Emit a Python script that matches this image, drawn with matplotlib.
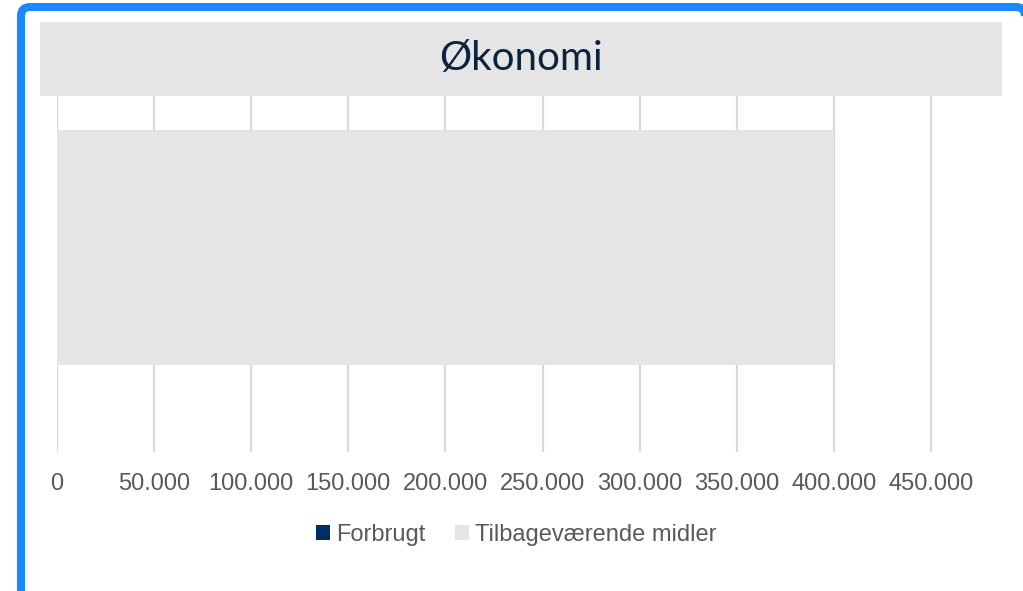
"""
Budget bar chart: spent vs remaining funds (Økonomi).
"""
import matplotlib.pyplot as plt
from matplotlib.patches import PathPatch, Rectangle
from matplotlib.path import Path
from matplotlib.transforms import IdentityTransform

# data
categories = ['Økonomi']
forbrugt = [0]
tilbage = [400000]
series_labels = ['Forbrugt', 'Tilbageværende midler']
ticks = [0, 50000, 100000, 150000, 200000, 250000, 300000, 350000, 400000, 450000]
tick_labels = ['0', '50.000', '100.000', '150.000', '200.000', '250.000',
               '300.000', '350.000', '400.000', '450.000']

navy = '#002F63'
light = '#E5E5E5'
text_grey = '#595959'
W, H = 1023, 591

plt.rcParams['font.family'] = ['Liberation Sans', 'DejaVu Sans']
fig = plt.figure(figsize=(W / 100, H / 100), dpi=100)


def px(x0, y0, x1, y1):
    # pixel box (top-left origin) -> figure fraction rect
    return [x0 / W, 1 - y1 / H, (x1 - x0) / W, (y1 - y0) / H]


# outer blue frame in display pixels, bottom edge runs off the image
top = H - 7
r = 9
verts = [(21, -50), (21, top - r), (21, top), (21 + r, top),
         (1025 - r, top), (1025, top), (1025, top - r), (1025, -50)]
codes = [Path.MOVETO, Path.LINETO, Path.CURVE3, Path.CURVE3,
         Path.LINETO, Path.CURVE3, Path.CURVE3, Path.LINETO]
frame = PathPatch(Path(verts, codes), transform=IdentityTransform(), fill=False,
                  edgecolor='#1A89FF', linewidth=5.8, zorder=0)
fig.patches.append(frame)

ax = fig.add_axes(px(57, 96, 1002, 452))
x_max = 450000 * (1002 - 57) / (931 - 57)
ax.set_xlim(0, x_max)
ax.set_ylim(-0.609, 0.451)

ax.barh(categories, forbrugt, height=0.7, color=navy, label=series_labels[0], zorder=2)
ax.barh(categories, tilbage, left=forbrugt, height=0.7, color=light,
        label=series_labels[1], zorder=2)

for t in ticks:
    ax.axvline(t, color='#D9D9D9', linewidth=1.6, zorder=1)

ax.set_xticks(ticks)
ax.set_xticklabels(tick_labels, fontsize=17, color=text_grey)
ax.tick_params(axis='x', length=0, pad=15)
ax.set_yticks([])
for s in ax.spines.values():
    s.set_visible(False)

# title band
title_ax = fig.add_axes(px(40, 22, 1002, 96))
title_ax.add_patch(Rectangle((0, 0), 1, 1, color=light, transform=title_ax.transAxes))
title_ax.set_axis_off()
title_ax.text(0.5, 0.5, 'Økonomi', ha='center', va='center', fontsize=29,
              color='#0C2340', family=['Lato', 'DejaVu Sans'])

leg = fig.legend(loc='center', bbox_to_anchor=(516 / W, 1 - 535 / H), ncol=2,
                 frameon=False, fontsize=17, handlelength=0.6, handleheight=0.6,
                 handletextpad=0.25, columnspacing=1.25)
for txt in leg.get_texts():
    txt.set_color(text_grey)

fig.savefig('out.png', dpi=100)
